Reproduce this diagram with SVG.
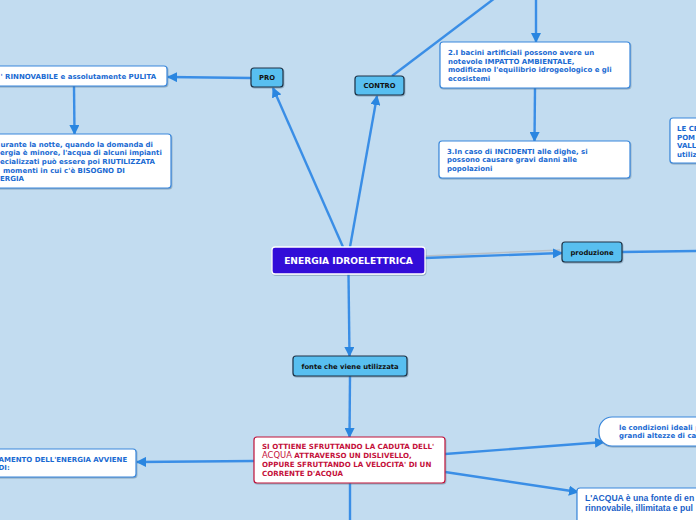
<svg xmlns="http://www.w3.org/2000/svg" width="696" height="520" viewBox="0 0 696 520">
<defs>
<marker id="ah" viewBox="0 0 10 10" refX="9" refY="5" markerWidth="4.2" markerHeight="4.2" orient="auto" markerUnits="strokeWidth">
<path d="M0,0 L10,5 L0,10 z" fill="#2a86e0"/>
</marker>
<filter id="sh" x="-5%" y="-20%" width="110%" height="150%">
<feDropShadow dx="0.6" dy="1" stdDeviation="0.6" flood-color="#40607a" flood-opacity="0.45"/>
</filter>
</defs>
<style>
.bg{fill:#c2dcf0}
.c{fill:none;stroke:#3a8ee6;stroke-width:2.4}
.ca{fill:none;stroke:#3a8ee6;stroke-width:2.4;marker-end:url(#ah)}
.wb{fill:#ffffff;stroke:#3a88dc;stroke-width:1.2;filter:url(#sh)}
.rb{fill:#ffffff;stroke:#c0103a;stroke-width:1.2;filter:url(#sh)}
.tb{fill:#58bff0;stroke:#1e3346;stroke-width:1.2;filter:url(#sh)}
.mb{fill:#3311d8;stroke:#ffffff;stroke-width:1.3;filter:url(#sh)}
.t{font-family:"DejaVu Sans",Verdana,sans-serif;font-weight:bold;font-size:7px;fill:#1a6ad2}
.tr{font-family:"DejaVu Sans",Verdana,sans-serif;font-weight:bold;font-size:7.1px;fill:#c4103a}
.tk{font-family:"DejaVu Sans",Verdana,sans-serif;font-weight:bold;font-size:6.8px;fill:#111111;text-anchor:middle}
.tm{font-family:"DejaVu Sans",Verdana,sans-serif;font-weight:bold;font-size:9.1px;fill:#ffffff;text-anchor:middle}
.tl{font-family:"Liberation Sans",Arial,sans-serif;font-weight:bold;font-size:8.6px;fill:#1a5fc8}
</style>
<rect class="bg" x="0" y="0" width="696" height="520"/>

<g id="connectors">
<line class="ca" x1="343" y1="247" x2="273" y2="88"/>
<line class="ca" x1="350" y1="247" x2="377" y2="96"/>
<line class="ca" x1="251" y1="78" x2="168" y2="77"/>
<line class="ca" x1="74" y1="86" x2="74.5" y2="134"/>
<line class="c" x1="392" y1="76" x2="495" y2="-2"/>
<line class="ca" x1="536" y1="0" x2="536" y2="42"/>
<line class="ca" x1="535" y1="88" x2="534.5" y2="141"/>
<line x1="425" y1="256" x2="560" y2="250" stroke="#b8c0c8" stroke-width="1.6"/>
<line class="ca" x1="425" y1="258" x2="562" y2="253"/>
<line class="c" x1="622" y1="252" x2="696" y2="251"/>
<line class="ca" x1="348.5" y1="274" x2="349.5" y2="356"/>
<line class="ca" x1="350" y1="376" x2="349.5" y2="437"/>
<line class="ca" x1="254" y1="461" x2="137" y2="462"/>
<line class="ca" x1="445" y1="454" x2="604" y2="442"/>
<line class="ca" x1="445" y1="472" x2="578" y2="492"/>
<line class="c" x1="350" y1="483" x2="350" y2="522"/>
</g>

<g id="main">
<rect class="mb" x="272" y="247" width="153" height="27" rx="3"/>
<text class="tm" x="348.5" y="264.2">ENERGIA IDROELETTRICA</text>
</g>

<g id="pro">
<rect class="tb" x="251" y="68" width="32" height="19" rx="3"/>
<text class="tk" x="267" y="80">PRO</text>
</g>

<g id="contro">
<rect class="tb" x="355" y="76" width="49" height="19" rx="3"/>
<text class="tk" x="379.5" y="88">CONTRO</text>
</g>

<g id="produzione">
<rect class="tb" x="562" y="242" width="60" height="20" rx="3"/>
<text class="tk" x="592" y="254.5">produzione</text>
</g>

<g id="fonte">
<rect class="tb" x="293" y="356" width="114" height="20" rx="3"/>
<text class="tk" x="350" y="368.5">fonte che viene utilizzata</text>
</g>

<g id="pulita">
<rect class="wb" x="-10" y="66" width="177" height="20" rx="3"/>
<text class="t" x="0.5" y="79">' RINNOVABILE e assolutamente PULITA</text>
</g>

<g id="notte">
<rect class="wb" x="-10" y="134" width="181" height="54" rx="3"/>
<text class="t" x="0.5" y="146.6">urante la notte, quando la domanda di</text>
<text class="t" x="0" y="155.3">ergia è minore, l'acqua di alcuni impianti</text>
<text class="t" x="0" y="164">ecializzati può essere poi RIUTILIZZATA</text>
<text class="t" x="3" y="172.7"> momenti in cui c'è BISOGNO DI</text>
<text class="t" x="0" y="181.4">ERGIA</text>
</g>

<g id="bacini">
<rect class="wb" x="440" y="42" width="190" height="46" rx="3"/>
<text class="t" x="448" y="55.2">2.I bacini artificiali possono avere un</text>
<text class="t" x="448" y="63.8">notevole IMPATTO AMBIENTALE,</text>
<text class="t" x="448" y="72.4">modificano l'equilibrio idrogeologico e gli</text>
<text class="t" x="448" y="81">ecosistemi</text>
</g>

<g id="incidenti">
<rect class="wb" x="439" y="141" width="191" height="37" rx="3"/>
<text class="t" x="447" y="153.8">3.In caso di INCIDENTI alle dighe, si</text>
<text class="t" x="447" y="162.4">possono causare gravi danni alle</text>
<text class="t" x="447" y="171">popolazioni</text>
</g>

<g id="centrali">
<rect class="wb" x="670" y="118" width="36" height="45" rx="3"/>
<text class="t" x="677" y="131">LE CE</text>
<text class="t" x="677" y="139.5">POM</text>
<text class="t" x="677" y="148">VALL</text>
<text class="t" x="677" y="156.5">utiliz</text>
</g>

<g id="sfruttamento">
<rect class="wb" x="-10" y="449" width="146" height="28" rx="3"/>
<text class="t" x="-1.5" y="461.5">AMENTO DELL'ENERGIA AVVIENE</text>
<text class="t" x="-1.5" y="470">DI:</text>
</g>

<g id="caduta">
<rect class="rb" x="254" y="437" width="191" height="46" rx="3"/>
<text class="tr" x="262" y="449.2">SI OTTIENE SFRUTTANDO LA CADUTA DELL'</text>
<text class="tr" x="262" y="458"><tspan font-weight="normal" font-size="8.4px">ACQUA</tspan> ATTRAVERSO UN DISLIVELLO,</text>
<text class="tr" x="262" y="466.8">OPPURE SFRUTTANDO LA VELOCITA' DI UN</text>
<text class="tr" x="262" y="475.6">CORRENTE D'ACQUA</text>
</g>

<g id="condizioni">
<rect class="wb" x="599" y="417" width="110" height="29" rx="13"/>
<text class="t" x="619" y="429.8">le condizioni ideali p</text>
<text class="t" x="619" y="438.4">grandi altezze di ca</text>
</g>

<g id="acqua">
<rect class="wb" x="577" y="488" width="130" height="40" rx="3"/>
<text class="tl" x="585" y="500.5">L'ACQUA è una fonte di en</text>
<text class="tl" x="585" y="510.5">rinnovabile, illimitata e pul</text>
</g>
</svg>
